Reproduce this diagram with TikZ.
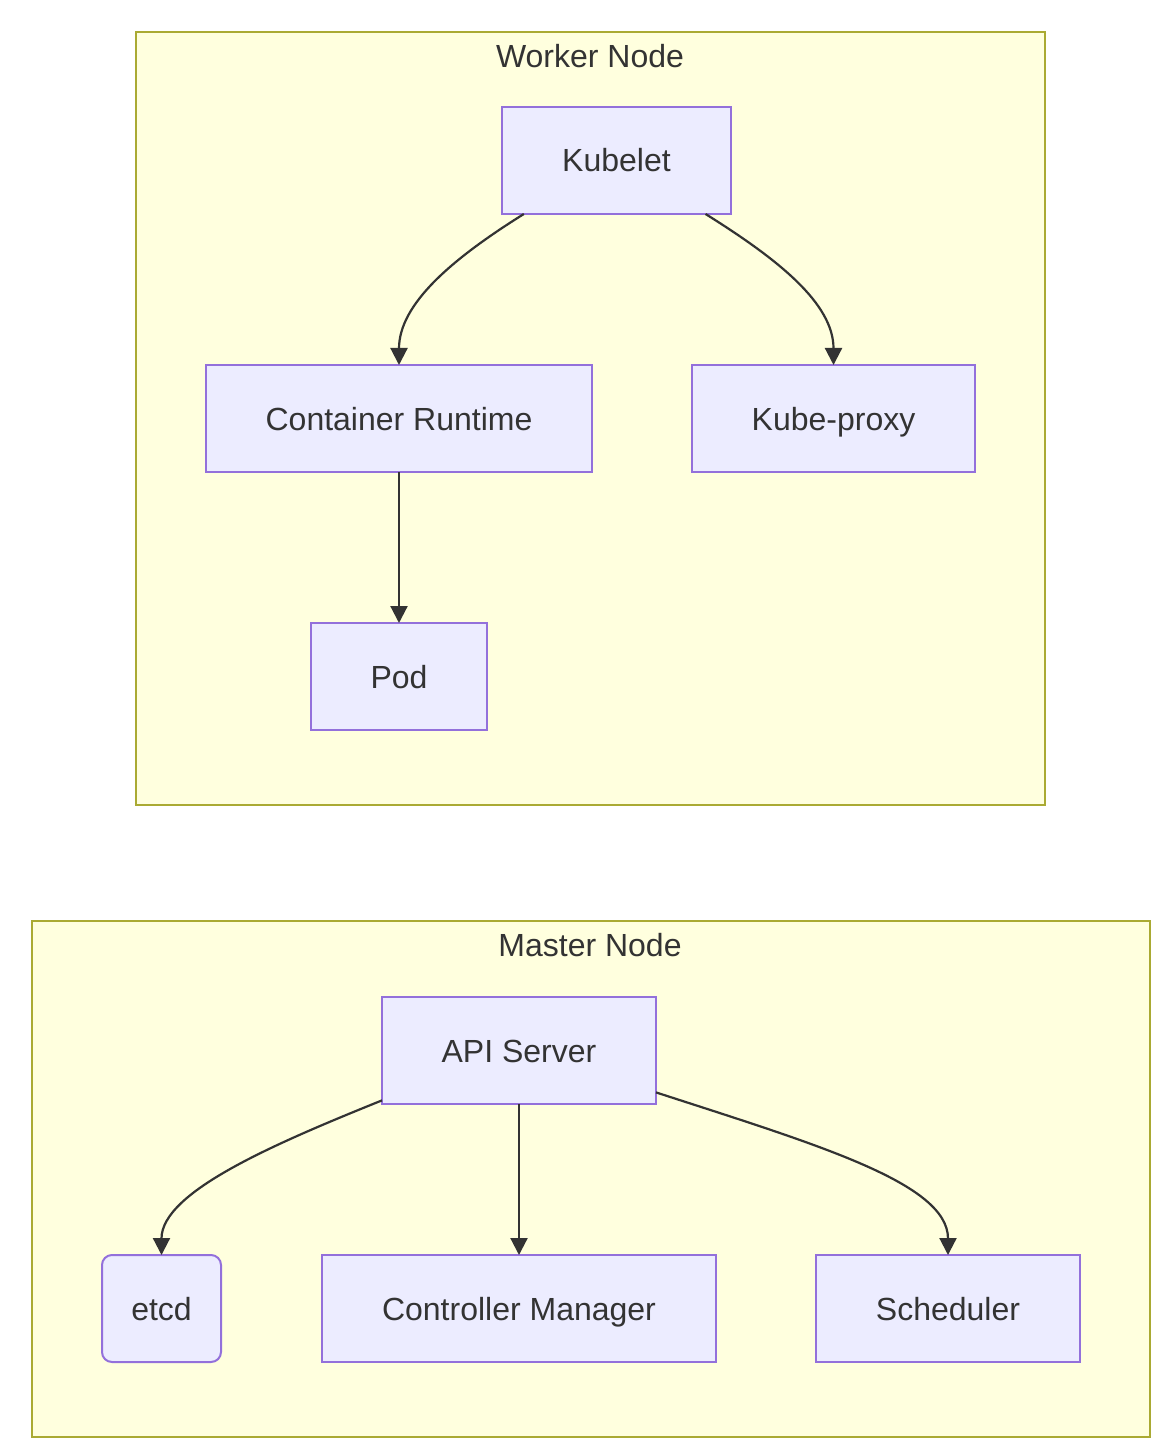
\documentclass[tikz,border=0pt]{standalone}
\usepackage{fontspec}
\setmainfont{Liberation Sans}
\usetikzlibrary{arrows.meta}
\definecolor{clusterfill}{HTML}{FFFFDE}
\definecolor{clusterline}{HTML}{AAAA33}
\definecolor{boxfill}{HTML}{ECECFF}
\definecolor{boxline}{HTML}{9370DB}
\definecolor{textgray}{HTML}{333333}
\tikzset{
  box/.style={draw=boxline, fill=boxfill, line width=1pt, minimum height=53.5pt, inner sep=0pt, outer sep=0pt, text height=11.5pt, text depth=0pt, text=textgray, font=\fontsize{16}{19}\selectfont},
  cluster/.style={draw=clusterline, fill=clusterfill, line width=1pt},
  title/.style={text=textgray, font=\fontsize{16}{19}\selectfont},
  link/.style={draw=textgray, line width=1.1pt, -{Triangle[length=8.5pt,width=8.5pt]}}
}
\begin{document}
\begin{tikzpicture}[x=0.5pt,y=-0.5pt]
        \useasboundingbox (0,0) rectangle (1166,1454);
        \draw [cluster] (136,32) rectangle (1045,805);
        \node [title] (workertitle) at (590,56) {Worker Node};
        \node [box, minimum width=114.5pt] (kubelet) at (616.5,160.5) {Kubelet};
        \node [box, minimum width=193pt] (runtime) at (399,418.5) {Container Runtime};
        \node [box, minimum width=141.5pt] (proxy) at (833.5,418.5) {Kube-proxy};
        \node [box, minimum width=88pt] (pod) at (399,676.5) {Pod};
        \draw [link] (kubelet.-150) to [out=212, in=90, out looseness=1.1, in looseness=0.8] (runtime.north);
        \draw [link] (kubelet.-31) to [out=-32, in=90, out looseness=1.1, in looseness=0.8] (proxy.north);
        \draw [link] (runtime.south) -- (pod.north);
        \draw [cluster] (32,921) rectangle (1150,1437);
        \node [title] (mastertitle) at (590,945) {Master Node};
        \node [box, minimum width=137pt] (api) at (519,1050.5) {API Server};
        \node [box, minimum width=59.5pt, rounded corners=5pt] (etcd) at (161.5,1308.5) {etcd};
        \node [box, minimum width=197pt] (manager) at (519,1308.5) {Controller Manager};
        \node [box, minimum width=132pt] (scheduler) at (948,1308.5) {Scheduler};
        \draw [link] (api.-160) to [out=202, in=90, out looseness=1.1, in looseness=0.6] (etcd.north);
        \draw [link] (api.south) -- (manager.north);
        \draw [link] (api.-17) to [out=-18, in=90, out looseness=1.3, in looseness=0.55] (scheduler.north);
    \end{tikzpicture}
\end{document}
